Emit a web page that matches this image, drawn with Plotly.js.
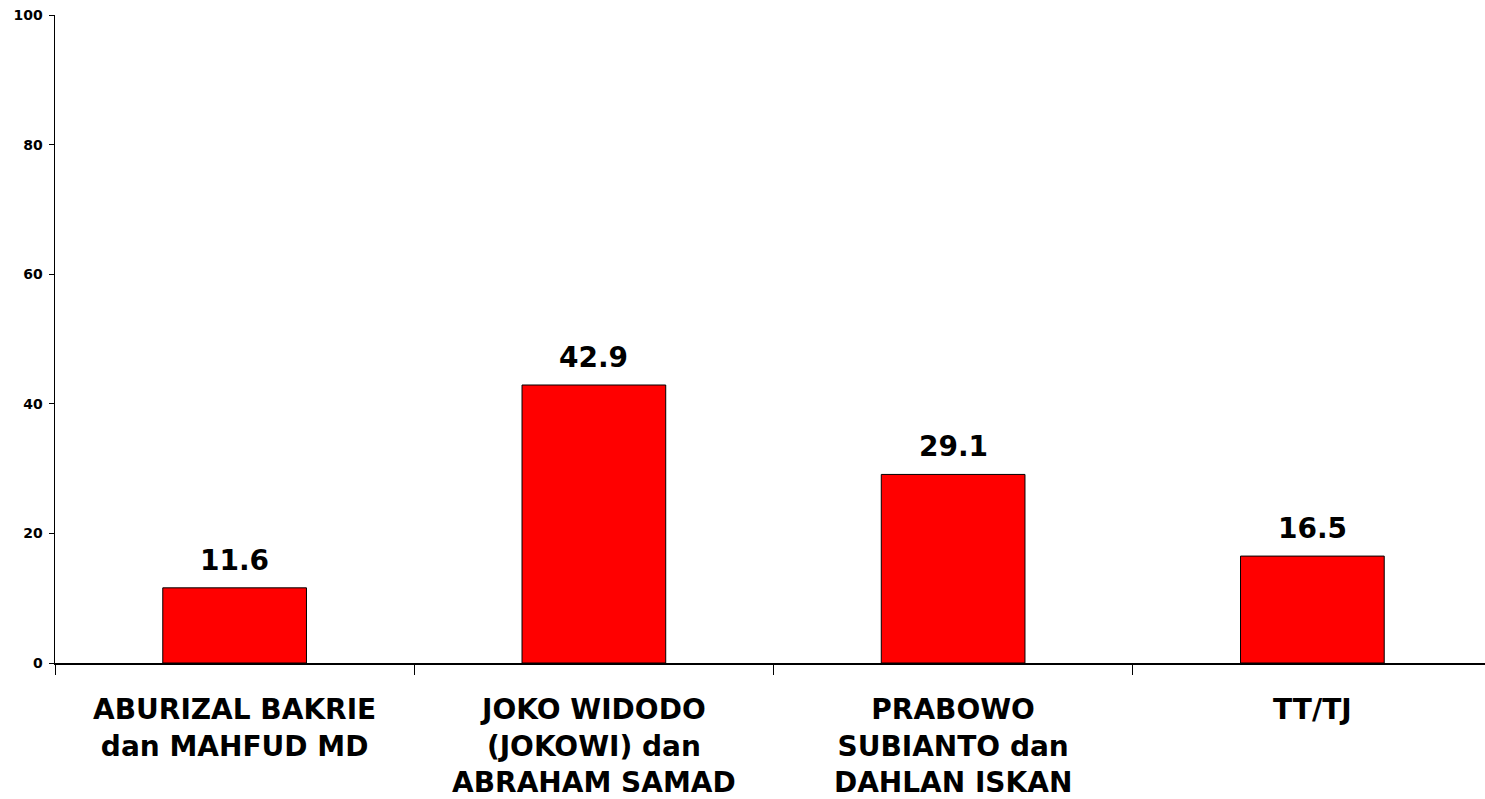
<!DOCTYPE html>
<html>
<head>
<meta charset="utf-8">
<script src="https://cdn.plot.ly/plotly-3.0.1.min.js"></script>
<style>
html,body{margin:0;padding:0;overflow:hidden;background:#fff;}
#chart{width:1493px;height:799px;}
</style>
</head>
<body>
<div id="chart"></div>
<script>
const categories = [
  "ABURIZAL BAKRIE<br>dan MAHFUD MD",
  "JOKO WIDODO<br>(JOKOWI) dan<br>ABRAHAM SAMAD",
  "PRABOWO<br>SUBIANTO dan<br>DAHLAN ISKAN",
  "TT/TJ"
];
const values = [11.6, 42.9, 29.1, 16.5];
const valueLabels = ["11.6", "42.9", "29.1", "16.5"];
const yTicks = [0, 20, 40, 60, 80, 100];

const FONT = "DejaVu Sans, Verdana, sans-serif";

const trace = {
  type: "bar",
  x: categories,
  y: values,
  width: 0.4,
  marker: {color: "#ff0000", line: {color: "#000000", width: 1}},
  hoverinfo: "none"
};

const annotations = categories.map((c, i) => ({
  x: c, y: values[i], xref: "x", yref: "y",
  text: valueLabels[i], showarrow: false,
  yanchor: "bottom", yshift: 9,
  font: {family: FONT, size: 28, color: "#000", weight: "bold"}
}));

const layout = {
  width: 1493, height: 799,
  margin: {l: 55, r: 1, t: 15, b: 136},
  paper_bgcolor: "#fff", plot_bgcolor: "#fff",
  showlegend: false,
  bargap: 0.6,
  xaxis: {
    type: "category",
    showline: true, linecolor: "#000", linewidth: 1.5,
    ticks: "outside", tickson: "boundaries", ticklen: 10, tickcolor: "#000", tickwidth: 1,
    ticklabelstandoff: 21,
    showgrid: false, zeroline: false,
    tickfont: {family: FONT, size: 28, color: "#000", weight: "bold"},
    automargin: false
  },
  yaxis: {
    range: [0, 100],
    tickvals: yTicks, ticktext: yTicks.map(String),
    showline: true, linecolor: "#000", linewidth: 1.5,
    ticks: "outside", ticklen: 5, tickcolor: "#000",
    showgrid: false, zeroline: false,
    ticklabelstandoff: 3,
    tickfont: {family: FONT, size: 14, color: "#000", weight: "bold"},
    automargin: false
  },
  annotations: annotations
};

Plotly.newPlot("chart", [trace], layout, {staticPlot: true, displayModeBar: false});
</script>
</body>
</html>
